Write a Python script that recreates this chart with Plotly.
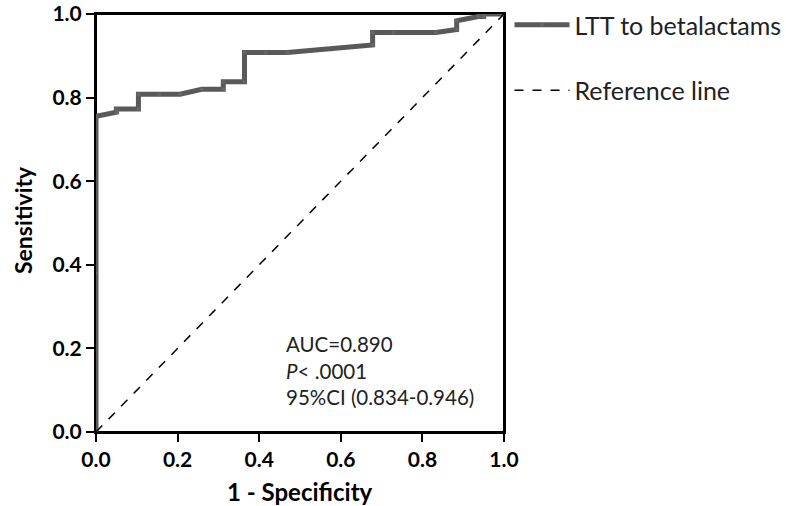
import plotly.graph_objects as go

fpr = [0.0, 0.0, 0.0, 0.05, 0.05, 0.104, 0.104, 0.155, 0.206, 0.259, 0.312, 0.312, 0.364, 0.364,
       0.416, 0.469, 0.678, 0.678, 0.729, 0.833, 0.884, 0.884, 0.937, 0.95, 0.95, 1.0]
tpr = [0.0, 0.38, 0.755, 0.765, 0.773, 0.773, 0.808, 0.808, 0.808, 0.82, 0.82, 0.838, 0.838, 0.908,
       0.908, 0.908, 0.926, 0.956, 0.956, 0.956, 0.963, 0.984, 0.994, 0.994, 1.0, 1.0]
ref_x = [0.0, 1.0]
ref_y = [0.0, 1.0]
stats_lines = ["AUC=0.890", "<i>P</i>< .0001", "95%CI (0.834-0.946)"]
ticks = [0.0, 0.2, 0.4, 0.6, 0.8, 1.0]
x_title = "1 - Specificity"
y_title = "Sensitivity"

font_family = "Lato, Open Sans, sans-serif"

fig = go.Figure()
fig.add_trace(go.Scatter(
    x=fpr, y=tpr, mode="lines+markers", name="LTT to betalactams",
    line=dict(color="#595959", width=5, shape="linear"),
    marker=dict(color="#666666", size=4),
    legendgroup="a", cliponaxis=False,
))
fig.add_trace(go.Scatter(
    x=ref_x, y=ref_y, mode="lines", name="Reference line",
    line=dict(color="black", width=1.5, dash="dash"),
    legendgroup="b",
))

# plot frame
fig.add_shape(type="rect", xref="paper", yref="paper", x0=0, y0=0, x1=1, y1=1,
              line=dict(color="black", width=2), layer="below")

fig.add_annotation(
    x=0.46, y=0.245, xref="x", yref="y", xanchor="left", yanchor="top",
    text="<br>".join(stats_lines), showarrow=False, align="left",
    font=dict(family=font_family, size=20.5, color="#222222"),
)
fig.add_annotation(
    x=0.5, y=-0.1435, xref="paper", yref="paper", xanchor="center", yanchor="middle",
    text=x_title, showarrow=False,
    font=dict(family=font_family, size=24, color="black", weight="bold"),
)
fig.add_annotation(
    x=-0.179, y=0.507, xref="paper", yref="paper", xanchor="center", yanchor="middle",
    text=y_title, showarrow=False, textangle=-90,
    font=dict(family=font_family, size=23, color="black", weight="bold"),
)

axis_common = dict(
    range=[0, 1], tickvals=ticks, ticktext=[f"{t:.1f}" for t in ticks],
    showgrid=False, zeroline=False, showline=True, linecolor="black", linewidth=2,
    mirror=True, ticks="outside", ticklen=8, tickwidth=1.5, tickcolor="black",
    tickfont=dict(family=font_family, size=21, color="black", weight="bold"),
    automargin=False, ticklabeloverflow="allow",
)

fig.update_layout(
    width=786, height=506,
    margin=dict(l=96, r=282, t=14, b=74, autoexpand=False),
    paper_bgcolor="white", plot_bgcolor="white",
    showlegend=True,
    legend=dict(
        xref="container", yref="container",
        x=0.6482, y=0.996, xanchor="left", yanchor="top",
        font=dict(family=font_family, size=25, color="#222222"),
        tracegroupgap=30, itemwidth=55, traceorder="grouped",
        bgcolor="rgba(0,0,0,0)",
    ),
    xaxis=dict(**axis_common),
    yaxis=dict(**axis_common),
)

fig.write_html("out.html", config={"displayModeBar": False},
               post_script="document.body.style.margin='0';")
